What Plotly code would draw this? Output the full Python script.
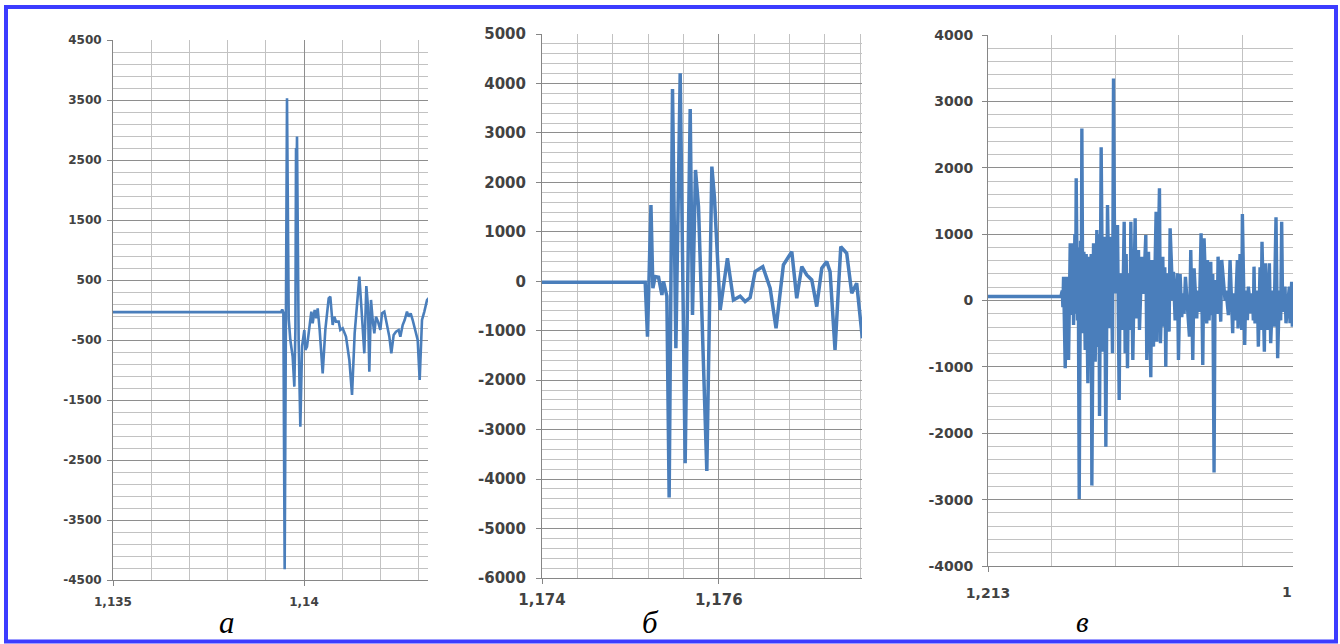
import plotly.graph_objects as go

# ---------------- data ----------------
# panel a
a_x = [1.135, 1.13940, 1.13943, 1.13946, 1.139494, 1.139525, 1.139555, 1.13960, 1.139642, 1.139703,
       1.139747, 1.139775, 1.139791, 1.13980, 1.139817, 1.13986, 1.139904, 1.13995, 1.140009, 1.140035,
       1.140079, 1.140140, 1.140192, 1.140227, 1.140279, 1.140323, 1.140358, 1.140410, 1.140489, 1.140558,
       1.140602, 1.140646, 1.140689, 1.140716, 1.140750, 1.140794, 1.140838, 1.140908, 1.140951, 1.141012,
       1.141099, 1.141187, 1.141257, 1.141326, 1.141387, 1.141449, 1.141501, 1.141536, 1.141579, 1.141632,
       1.141675, 1.141710, 1.141754, 1.141798, 1.141841, 1.141885, 1.141937, 1.141998, 1.142042, 1.142103,
       1.142173, 1.142234, 1.142286, 1.142347, 1.142408, 1.142478, 1.142522, 1.142583, 1.142635, 1.142696,
       1.142740, 1.142792, 1.142845, 1.142914, 1.142976, 1.143028, 1.143089, 1.143150, 1.143220, 1.143264]
a_y = [-35, -35, 10, -40, -4320, -200, 3530, -150, -500, -778,
       -1278, -300, 2700, 2000, 2890, -500, -1945, -600, -333, -667,
       -611, -278, -27, -222, 0, -139, 28, -333, -1055, -333,
       -111, 195, 222, 56, -250, -111, -194, -194, -333, -305,
       -444, -833, -1417, -389, 56, 556, 56, -389, -722, 400,
       56, -1028, 167, -167, -389, -111, -194, -333, -55, -27,
       -222, -444, -722, -416, -361, -333, -444, -250, -167, -27,
       -111, -55, -167, -333, -500, -1167, -167, -27, 167, 200]

# panel b
b_x = [1.174, 1.175167, 1.175193, 1.175232, 1.175254, 1.175280, 1.175318, 1.175356, 1.175374, 1.175412,
       1.175438, 1.175476, 1.175514, 1.175563, 1.175619, 1.175676, 1.175702, 1.175736, 1.175770, 1.175864,
       1.175921, 1.175950, 1.176015, 1.176097, 1.176165, 1.176241, 1.176297, 1.176354, 1.176410, 1.176497,
       1.176580, 1.176647, 1.176730, 1.176825, 1.176881, 1.176938, 1.176994, 1.177051, 1.177107, 1.177164,
       1.177220, 1.177258, 1.177314, 1.177379, 1.177446, 1.177503, 1.177559, 1.177623]
b_y = [-20, -20, -1119, 1543, -141, 95, 80, -277, 0, -300,
       -4374, 3888, -1355, 4206, -3680, 3484, -681, 2251, 1510, -3835,
       2318, 1700, -580, 465, -378, -300, -410, -330, 196, 297,
       -141, -950, 330, 600, -344, 297, 128, 27, -512, 263,
       398, 196, -1389, 701, 566, -243, -40, -1153]

# panel c
c_x = [1.213, 1.2132291, 1.2132333, 1.2132354, 1.2132375, 1.2132427, 1.2132479, 1.2132532, 1.2132584, 1.2132605,
       1.2132657, 1.2132689, 1.2132731, 1.2132752, 1.2132772, 1.2132814, 1.2132835, 1.2132867, 1.2132909, 1.2132929,
       1.2132950, 1.2132982, 1.2133013, 1.2133055, 1.2133086, 1.2133139, 1.2133191, 1.2133223, 1.2133243, 1.2133264,
       1.2133317, 1.2133369, 1.2133421, 1.2133463, 1.2133484, 1.2133505, 1.2133557, 1.2133610, 1.2133662, 1.2133704,
       1.2133756, 1.2133819, 1.2133861, 1.2133913, 1.2133945, 1.2133987, 1.2134070, 1.2134123, 1.2134154, 1.2134227,
       1.2134280, 1.2134311, 1.2134342, 1.2134384, 1.2134416, 1.2134468, 1.2134489, 1.2134552, 1.2134625, 1.2134656,
       1.2134730, 1.2134761, 1.2134834, 1.2134887, 1.2134960, 1.2134991, 1.2135044, 1.2135117, 1.2135148, 1.2135201,
       1.2135284, 1.2135305, 1.2135389, 1.2135420, 1.2135494, 1.2135525, 1.2135556, 1.2135588, 1.2135619, 1.2135692,
       1.2135724, 1.2135808, 1.2135829, 1.2135881, 1.2135954, 1.2135986, 1.2136038, 1.2136090, 1.2136122, 1.2136163,
       1.2136205, 1.2136331, 1.2136373, 1.2136436, 1.2136477, 1.2136561, 1.2136582, 1.2136645, 1.2136697, 1.2136750,
       1.2136791, 1.2136875, 1.2136896, 1.2136948, 1.2137001, 1.2137022, 1.2137064, 1.2137105, 1.2137137, 1.2137210,
       1.2137231, 1.2137315, 1.2137346, 1.2137451, 1.2137482, 1.2137555, 1.2137608, 1.2137691, 1.2137712, 1.2137765,
       1.2137838, 1.2137859, 1.2137922, 1.2137974, 1.2137995, 1.2138068, 1.2138100, 1.2138152, 1.2138183, 1.2138267,
       1.2138309, 1.2138340, 1.2138361, 1.2138393, 1.2138466, 1.2138497, 1.2138550, 1.2138581, 1.2138612, 1.2138686,
       1.2138717, 1.2138790, 1.2138843, 1.2138885, 1.2138947, 1.2138989, 1.2139052, 1.2139104, 1.2139157, 1.2139199,
       1.2139230, 1.2139261, 1.2139335, 1.2139366, 1.2139471, 1.2139492, 1.2139544, 1.2139565, 1.2139596]
c_y = [60, 60, 150, -100, 358, -1021, 358, -896, 861, -218,
       861, -370, 1000, -200, 1840, -300, 800, -2990, 900, -400,
       2593, -494, 735, -745, 700, -1247, 660, -600, 700, -2789,
       861, -922, 1062, -700, 1000, -1739, 2307, -770, 961, -2202,
       1438, -419, 961, -795, 3346, 108, 1137, -1499, 409, -444,
       1187, -795, 700, -1021, 409, -444, 1187, -896, 1237, -270,
       760, -444, 660, 100, 986, -896, 735, -1157, 610, -695,
       1338, -620, 1690, -645, 660, -394, 500, -997, 409, -469,
       1087, 0, 434, -300, 409, -896, 400, -250, 108, -200,
       358, -545, 760, -896, 485, -270, 150, -170, 1012, -971,
       937, -345, 610, -300, 585, -220, 400, -2590, 310, -200,
       660, -319, 610, 0, 150, -220, 610, -494, 108, -300,
       610, -420, 700, -445, 1303, -670, 150, -295, 209, -195,
       108, -300, 510, -345, 150, -695, 500, -445, 886, -770,
       560, -445, 560, -645, 150, -395, 1253, -871, 150, -300,
       1187, -170, 209, -343, 209, -343, 283, -394, 283]

# axis ticks / labels
a_yticks = [-4500, -3500, -2500, -1500, -500, 500, 1500, 2500, 3500, 4500]
a_ytext = ["-4500", "-3500", "-2500", "-1500", "-500", "500", "1500", "2500", "3500", "4500"]
a_xticks = [1.135, 1.14]
a_xtext = ["1,135", "1,14"]

b_yticks = [-6000, -5000, -4000, -3000, -2000, -1000, 0, 1000, 2000, 3000, 4000, 5000]
b_ytext = ["-6000", "-5000", "-4000", "-3000", "-2000", "-1000", "0", "1000", "2000", "3000", "4000", "5000"]
b_xticks = [1.174, 1.176]
b_xtext = ["1,174", "1,176"]

c_yticks = [-4000, -3000, -2000, -1000, 0, 1000, 2000, 3000, 4000]
c_ytext = ["-4000", "-3000", "-2000", "-1000", "0", "1000", "2000", "3000", "4000"]
c_xticks = [1.213]
c_xtext = ["1,213"]

panel_labels = ["а", "б", "в"]

# ---------------- styling ----------------
W, H = 1340, 644
LINE = "#4a7ebb"
AXC = "#868686"
MAJ = "#8e8e8e"
MINC = "#c2c2c2"
TXT = "#424242"
FONT = "DejaVu Sans"


def px_x(p):
    return p / W


def px_y(p):
    return 1 - p / H


fig = go.Figure()
fig.add_trace(go.Scatter(x=a_x, y=a_y, mode="lines", line=dict(color=LINE, width=2.6),
                         xaxis="x", yaxis="y", hoverinfo="skip"))
fig.add_trace(go.Scatter(x=b_x, y=b_y, mode="lines", line=dict(color=LINE, width=3.5),
                         xaxis="x2", yaxis="y2", hoverinfo="skip"))
fig.add_trace(go.Scatter(x=c_x, y=c_y, mode="lines", line=dict(color=LINE, width=3.4),
                         xaxis="x3", yaxis="y3", hoverinfo="skip"))


def xax(dom, rng, ticks, text, mdt, anchor, fsize, standoff):
    return dict(domain=dom, range=rng, anchor=anchor, tickmode="array", tickvals=ticks, ticktext=text,
                automargin=False,
                showgrid=True, gridcolor=MAJ, gridwidth=1, zeroline=False,
                showline=True, linecolor=AXC, linewidth=1, ticks="outside", ticklen=5, tickcolor=AXC,
                ticklabelstandoff=standoff,
                tickfont=dict(family=FONT, size=fsize, color=TXT, weight="bold"),
                minor=dict(tickmode="linear", tick0=rng[0], dtick=mdt, showgrid=True, gridcolor=MINC,
                           gridwidth=1, ticks=""),
                fixedrange=True)


def yax(dom, rng, ticks, text, t0, anchor, fsize, standoff):
    return dict(domain=dom, range=rng, anchor=anchor, tickmode="array", tickvals=ticks, ticktext=text,
                automargin=False,
                showgrid=True, gridcolor=MAJ, gridwidth=1, zeroline=False,
                showline=True, linecolor=AXC, linewidth=1, ticks="outside", ticklen=5, tickcolor=AXC,
                ticklabelstandoff=standoff,
                tickfont=dict(family=FONT, size=fsize, color=TXT, weight="bold"),
                minor=dict(tickmode="linear", tick0=t0, dtick=200, showgrid=True, gridcolor=MINC,
                           gridwidth=1, ticks=""),
                fixedrange=True)


fig.update_layout(
    width=W, height=H, margin=dict(l=0, r=0, t=0, b=0, pad=0, autoexpand=False),
    paper_bgcolor="white", plot_bgcolor="white", showlegend=False,
    xaxis=xax([px_x(113), px_x(428)], [1.135, 1.143246], a_xticks, a_xtext, 0.001, "y", 12, 6),
    yaxis=yax([px_y(580), px_y(40)], [-4500, 4500], a_yticks, a_ytext, -4500, "x", 12, 3),
    xaxis2=xax([px_x(542), px_x(862)], [1.174, 1.177619], b_xticks, b_xtext, 0.0004, "y2", 15, 3),
    yaxis2=yax([px_y(578), px_y(34)], [-6000, 5000], b_yticks, b_ytext, 0, "x2", 15, 7),
    xaxis3=xax([px_x(988), px_x(1293)], [1.213, 1.2139586], c_xticks, c_xtext, 0.0002, "y3", 14, 9),
    yaxis3=yax([px_y(566), px_y(35)], [-4000, 4000], c_yticks, c_ytext, 0, "x3", 14, 6),
    shapes=[dict(type="rect", xref="paper", yref="paper",
                 x0=px_x(6), x1=px_x(1336), y0=px_y(641.5), y1=px_y(7),
                 line=dict(color="#3c3cff", width=4), fillcolor="rgba(0,0,0,0)", layer="above")],
)

label_pos = [(227, 31), (650, 31), (1082, 29)]
for lab, (xc, fs) in zip(panel_labels, label_pos):
    fig.add_annotation(text=lab, xref="paper", yref="paper", x=px_x(xc), y=px_y(622),
                       xanchor="center", yanchor="middle", showarrow=False,
                       font=dict(family="Liberation Serif", size=fs, color="black", style="italic"))

# clipped right-hand tick label of panel c
fig.add_annotation(text="1", xref="paper", yref="paper", x=px_x(1294), y=px_y(592),
                   xanchor="right", yanchor="middle", showarrow=False,
                   font=dict(family=FONT, size=14, color=TXT, weight="bold"))

fig.write_html("out.html", config={"displayModeBar": False},
               post_script="document.body.style.margin='0';document.body.style.overflow='hidden';")
